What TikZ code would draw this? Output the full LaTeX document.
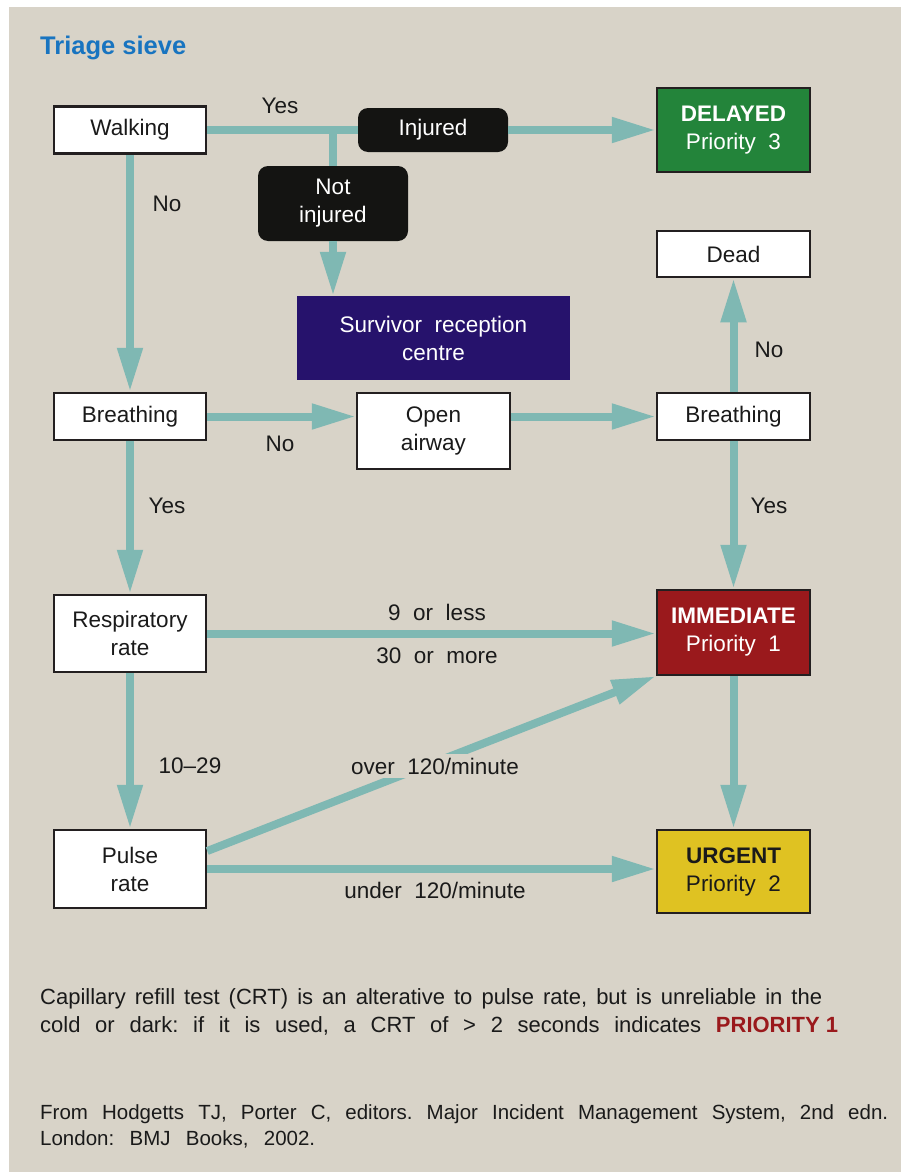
\documentclass[tikz,border=0pt]{standalone}
\usepackage{fontspec}
\setmainfont{Liberation Sans}
\usetikzlibrary{arrows.meta,calc}
\definecolor{bg}{HTML}{D8D3C8}
\definecolor{teal}{HTML}{7FB8B3}
\definecolor{bdr}{HTML}{231F20}
\definecolor{green}{HTML}{23843A}
\definecolor{red}{HTML}{9A191C}
\definecolor{yellow}{HTML}{DFC222}
\definecolor{indigo}{HTML}{26126C}
\definecolor{blk}{HTML}{141412}
\definecolor{titleblue}{HTML}{1874C0}
\definecolor{txt}{HTML}{1A1A1A}
\newcommand{\fs}{\fontsize{22.5}{28}\selectfont}
\frenchspacing
\begin{document}
\begin{tikzpicture}[x=1pt,y=-1pt,
  box/.style={draw=bdr, line width=2.5pt, fill=white, text=txt, minimum width=152pt, inner sep=0pt, align=center, font=\fs},
  pill/.style={fill=blk, text=white, rounded corners=10pt, minimum width=150pt, inner sep=0pt, align=center, font=\fs},
  lbl/.style={inner sep=0pt, font=\fs, text=txt},
  foot/.style={anchor=base west, inner sep=0pt, text=txt},
  conn/.style={draw=teal, line width=8pt},
  arr/.style={conn, -{Triangle[length=44pt,width=24pt]}}
]
\useasboundingbox (0,0) rectangle (901,1172);
\fill[white] (0,0) rectangle (901,1172);
\fill[bg] (9,7) rectangle (901,1172);

\node[anchor=base west, inner sep=0pt, text=titleblue, font=\fontsize{25.5}{30}\selectfont\bfseries] (title) at (40,55) {Triage sieve};

% nodes
\node[box, minimum height=47pt] (walking) at (130,130) {Walking};
\node[pill, minimum height=44pt] (injured) at (433,130) {Injured};
\node[pill, minimum height=75pt] (notinj) at (333,203.5) {Not\\injured};
\coordinate (j) at (333,130);
\node[fill=indigo, text=white, minimum width=273pt, minimum height=84pt, inner sep=0pt, align=center, font=\fs] (src) at (433.5,338) {Survivor~~reception\\centre};
\node[box, fill=green, text=white, minimum width=153pt, minimum height=84pt] (delayed) at (733.5,130) {\textbf{DELAYED}\\Priority~~3};
\node[box, minimum width=153pt, minimum height=46pt] (dead) at (733.5,254) {Dead};
\node[box, minimum width=153pt, minimum height=47pt] (breathR) at (733.5,416.5) {Breathing};
\node[box, minimum height=47pt] (breathL) at (130,416.5) {Breathing};
\node[box, minimum width=153pt, minimum height=76pt] (open) at (433.5,431) {Open\\airway};
\node[box, minimum height=77pt] (resp) at (130,633.5) {Respiratory\\rate};
\node[box, fill=red, text=white, minimum width=153pt, minimum height=85pt] (imm) at (733.5,632.5) {\textbf{IMMEDIATE}\\Priority~~1};
\node[box, minimum height=78pt] (pulse) at (130,869) {Pulse\\rate};
\node[box, fill=yellow, text=txt, minimum width=153pt, minimum height=83pt] (urg) at (733.5,871.5) {\textbf{URGENT}\\Priority~~2};

% connectors
\draw[conn] (walking.east) -- (injured.west);
\draw[conn] (j) -- (notinj.north);
\draw[arr] (injured.east) -- (delayed.west);
\draw[arr] (notinj.south) -- (notinj.south |- src.north);
\draw[arr] (walking.south) -- (breathL.north);
\draw[arr] (breathL.east) -- (breathL.east -| open.west);
\draw[arr] (breathL.east -| open.east) -- (breathR.west);
\draw[arr] (breathR.north) -- (dead.south);
\draw[arr] (breathR.south) -- (imm.north);
\draw[arr] (breathL.south) -- (resp.north);
\draw[arr] (resp.east) -- (resp.east -| imm.west);
\draw[arr] (resp.south) -- (pulse.north);
\draw[arr] ([yshift=18pt]pulse.east) -- (imm.south west);
\draw[arr] (pulse.east) -- (pulse.east -| urg.west);
\draw[arr] (imm.south) -- (urg.north);

% labels
\node[lbl] (l1) at (280,106) {Yes};
\node[lbl] (l2) at (167,204) {No};
\node[lbl] (l3) at (280,444) {No};
\node[lbl] (l4) at (769,350) {No};
\node[lbl] (l5) at (167,506) {Yes};
\node[lbl] (l6) at (769,506) {Yes};
\node[lbl] (l7) at (437,612) {9~~or~~less};
\node[lbl] (l8) at (437,656) {30~~or~~more};
\node[lbl] (l9) at (190,766) {10–29};
\node[lbl, fill=bg, inner sep=4pt] (l10) at (435,766) {over~~120/minute};
\node[lbl] (l11) at (435,890) {under~~120/minute};

% footer
\node[foot, font=\fontsize{22}{26}\selectfont] (f1) at (40,1004) {\makebox[782pt][s]{Capillary refill test (CRT) is an alterative to pulse rate, but is unreliable in the}};
\node[foot, font=\fontsize{22}{26}\selectfont] (f2) at (40,1032) {\makebox[798pt][s]{cold or dark: if it is used, a CRT of > 2 seconds indicates \mbox{\textcolor{red}{\textbf{PRIORITY 1}}}}};
\node[foot, font=\fontsize{20.5}{24}\selectfont] (c1) at (40,1119) {\makebox[848pt][s]{From Hodgetts TJ, Porter C, editors. Major Incident Management System, 2nd edn.}};
\node[foot, font=\fontsize{20.5}{24}\selectfont] (c2) at (40,1145) {\makebox[275pt][s]{London: BMJ Books, 2002.}};
\end{tikzpicture}
\end{document}
